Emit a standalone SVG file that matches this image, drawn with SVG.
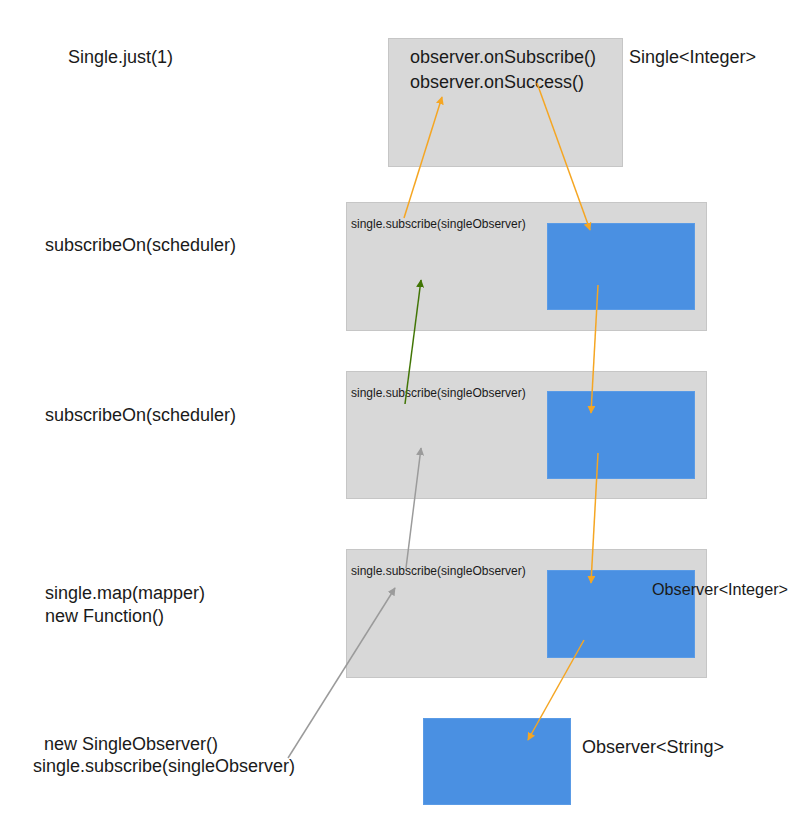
<svg xmlns="http://www.w3.org/2000/svg" width="799" height="833" viewBox="0 0 799 833">
<style>
.box{fill:#d8d8d8;stroke:#c6c6c6;stroke-width:1}
.blue{fill:#4a90e2;stroke:#5a9be6;stroke-width:1}
.t{font-family:"Liberation Sans",Arial,sans-serif;font-size:18px;fill:#1a1a1a}
.s{font-family:"Liberation Sans",Arial,sans-serif;font-size:12px;fill:#1a1a1a}
.o{stroke:#f5a623;stroke-width:1.5;fill:none}
.g{stroke:#417505;stroke-width:1.5;fill:none}
.y{stroke:#9b9b9b;stroke-width:1.5;fill:none}
</style>
<defs>
<marker id="ao" viewBox="0 0 10 10" refX="9" refY="5" markerWidth="8" markerHeight="8" orient="auto" markerUnits="userSpaceOnUse"><path d="M0,0 L10,5 L0,10 z" fill="#f5a623"/></marker>
<marker id="ag" viewBox="0 0 10 10" refX="9" refY="5" markerWidth="8" markerHeight="8" orient="auto" markerUnits="userSpaceOnUse"><path d="M0,0 L10,5 L0,10 z" fill="#417505"/></marker>
<marker id="ay" viewBox="0 0 10 10" refX="9" refY="5" markerWidth="8" markerHeight="8" orient="auto" markerUnits="userSpaceOnUse"><path d="M0,0 L10,5 L0,10 z" fill="#9b9b9b"/></marker>
</defs>
<rect width="799" height="833" fill="#ffffff"/>
<g id="labels">
<text class="t" x="68" y="63">Single.just(1)</text>
<text class="t" x="45" y="251">subscribeOn(scheduler)</text>
<text class="t" x="45" y="421">subscribeOn(scheduler)</text>
<text class="t" x="45" y="599">single.map(mapper)</text>
<text class="t" x="45" y="622">new Function()</text>
<text class="t" x="44" y="750">new SingleObserver()</text>
<text class="t" x="33" y="772">single.subscribe(singleObserver)</text>
</g>
<g id="node-single">
<rect class="box" x="388.5" y="38.5" width="234" height="128"/>
<text class="t" x="410" y="63">observer.onSubscribe()</text>
<text class="t" x="410" y="88">observer.onSuccess()</text>
<text class="t" x="629" y="63">Single&lt;Integer&gt;</text>
</g>
<g id="node-subscribeOn1">
<rect class="box" x="346.5" y="202.5" width="360" height="128"/>
<text class="s" x="351" y="228">single.subscribe(singleObserver)</text>
<rect class="blue" x="547.5" y="223.5" width="147" height="86"/>
</g>
<g id="node-subscribeOn2">
<rect class="box" x="346.5" y="371.5" width="360" height="127"/>
<text class="s" x="351" y="397">single.subscribe(singleObserver)</text>
<rect class="blue" x="547.5" y="391.5" width="147" height="87"/>
</g>
<g id="node-map">
<rect class="box" x="346.5" y="549.5" width="360" height="128"/>
<text class="s" x="351" y="575">single.subscribe(singleObserver)</text>
<rect class="blue" x="547.5" y="570.5" width="147" height="87"/>
<text class="t" x="652" y="595" style="font-size:16.5px" textLength="136" lengthAdjust="spacingAndGlyphs">Observer&lt;Integer&gt;</text>
</g>
<g id="node-observer">
<rect class="blue" x="423.5" y="718.5" width="147" height="86"/>
<text class="t" x="582" y="753">Observer&lt;String&gt;</text>
</g>
<g id="connectors">
<line class="o" x1="404" y1="218" x2="442" y2="97" marker-end="url(#ao)"/>
<line class="o" x1="537" y1="83" x2="590" y2="230" marker-end="url(#ao)"/>
<line class="o" x1="598" y1="285" x2="591" y2="413" marker-end="url(#ao)"/>
<line class="o" x1="598" y1="453" x2="591" y2="583" marker-end="url(#ao)"/>
<line class="o" x1="584" y1="640" x2="528" y2="740" marker-end="url(#ao)"/>
<line class="g" x1="405" y1="404" x2="421" y2="280" marker-end="url(#ag)"/>
<line class="y" x1="406" y1="568" x2="421" y2="448" marker-end="url(#ay)"/>
<line class="y" x1="288" y1="758" x2="395" y2="588" marker-end="url(#ay)"/>
</g>
</svg>
